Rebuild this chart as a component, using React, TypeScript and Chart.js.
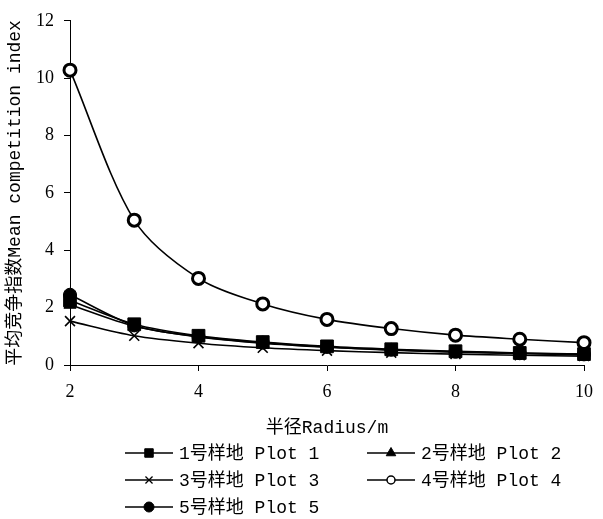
import React, { useEffect, useRef } from 'react';
import { Chart, registerables } from 'chart.js';

Chart.register(...registerables);

const radii = [2, 3, 4, 5, 6, 7, 8, 9, 10];
const plot1 = [2.25, 1.42, 1.02, 0.8, 0.65, 0.55, 0.48, 0.42, 0.38];
const plot2 = [2.1, 1.35, 0.98, 0.76, 0.62, 0.52, 0.45, 0.4, 0.36];
const plot3 = [1.53, 1.02, 0.76, 0.6, 0.5, 0.43, 0.38, 0.34, 0.31];
const plot4 = [10.28, 5.05, 3.02, 2.13, 1.59, 1.27, 1.04, 0.9, 0.78];
const plot5 = [2.45, 1.38, 0.99, 0.78, 0.63, 0.53, 0.46, 0.41, 0.37];
const seriesLabels = ['1号样地 Plot 1', '2号样地 Plot 2', '3号样地 Plot 3', '4号样地 Plot 4', '5号样地 Plot 5'];
const xTitle = '半径Radius/m';
const yTitle = '平均竞争指数Mean competition index';

const textFont = "'Liberation Mono', 'Noto Sans CJK SC', monospace";
const tickFont = "'Liberation Serif', serif";

type Marker = { style: string; radius: number; fill: string; border: number; legendRadius: number; legendBorder: number };
const markers: Marker[] = [
  { style: 'rect', radius: 9, fill: '#000', border: 1, legendRadius: 6, legendBorder: 1 },
  { style: 'triangle', radius: 7, fill: '#000', border: 1, legendRadius: 5.5, legendBorder: 1 },
  { style: 'crossRot', radius: 7, fill: '#000', border: 1.6, legendRadius: 5, legendBorder: 1.3 },
  { style: 'circle', radius: 6, fill: '#fff', border: 3, legendRadius: 4, legendBorder: 1.5 },
  { style: 'circle', radius: 6.5, fill: '#000', border: 1, legendRadius: 5, legendBorder: 1 },
];

function drawMarker(ctx: CanvasRenderingContext2D, m: Marker, x: number, y: number) {
  const r = m.legendRadius;
  ctx.save();
  ctx.fillStyle = m.fill;
  ctx.strokeStyle = '#000';
  ctx.lineWidth = m.legendBorder;
  ctx.beginPath();
  if (m.style === 'rect') {
    const s = Math.SQRT1_2 * r;
    ctx.rect(x - s, y - s, 2 * s, 2 * s);
    ctx.fill();
    ctx.stroke();
  } else if (m.style === 'triangle') {
    ctx.moveTo(x, y - r);
    ctx.lineTo(x + r * 0.866, y + r * 0.5);
    ctx.lineTo(x - r * 0.866, y + r * 0.5);
    ctx.closePath();
    ctx.fill();
    ctx.stroke();
  } else if (m.style === 'crossRot') {
    const s = Math.SQRT1_2 * r;
    ctx.moveTo(x - s, y - s);
    ctx.lineTo(x + s, y + s);
    ctx.moveTo(x - s, y + s);
    ctx.lineTo(x + s, y - s);
    ctx.stroke();
  } else {
    ctx.arc(x, y, r, 0, Math.PI * 2);
    ctx.fill();
    ctx.stroke();
  }
  ctx.restore();
}

const overlayPlugin = {
  id: 'overlay',
  afterDraw(chart: any) {
    const ctx: CanvasRenderingContext2D = chart.ctx;
    const area = chart.chartArea;
    ctx.save();
    ctx.fillStyle = '#000';
    ctx.font = `18px ${textFont}`;
    ctx.textAlign = 'center';
    ctx.textBaseline = 'middle';
    ctx.fillText(xTitle, (area.left + area.right) / 2, 428);
    ctx.save();
    ctx.translate(15, (area.top + area.bottom) / 2);
    ctx.rotate(-Math.PI / 2);
    ctx.fillText(yTitle, 0, 0);
    ctx.restore();

    const colX = [125, 367];
    const rowY = [453, 480, 507];
    const lineLen = 48;
    ctx.textAlign = 'left';
    chart.data.datasets.forEach((ds: any, i: number) => {
      const x0 = colX[i % 2];
      const y0 = rowY[Math.floor(i / 2)];
      ctx.strokeStyle = '#000';
      ctx.lineWidth = 1.6;
      ctx.beginPath();
      ctx.moveTo(x0, y0);
      ctx.lineTo(x0 + lineLen, y0);
      ctx.stroke();
      drawMarker(ctx, markers[i], x0 + lineLen / 2, y0);
      ctx.fillStyle = '#000';
      ctx.fillText(ds.label, x0 + lineLen + 6, y0 + 1);
    });
    ctx.restore();
  },
};

export default function App() {
  const ref = useRef<HTMLCanvasElement | null>(null);
  useEffect(() => {
    document.body.style.margin = '0';
    if (!ref.current) return;
    const series = [plot1, plot2, plot3, plot4, plot5];
    const chart = new Chart(ref.current, {
      type: 'line',
      data: {
        datasets: series.map((vals, i) => ({
          label: seriesLabels[i],
          data: radii.map((r, j) => ({ x: r, y: vals[j] })),
          borderColor: '#000',
          borderWidth: 1.6,
          backgroundColor: markers[i].fill,
          pointStyle: markers[i].style as any,
          pointRadius: markers[i].radius,
          pointBorderWidth: markers[i].border,
          pointBorderColor: '#000',
          pointBackgroundColor: markers[i].fill,
          tension: 0.3,
          fill: false,
          clip: false as any,
        })),
      },
      options: {
        animation: false,
        responsive: false,
        layout: { padding: { top: 13, right: 15, left: 0, bottom: 0 } },
        plugins: { legend: { display: false }, tooltip: { enabled: false } },
        scales: {
          x: {
            type: 'linear',
            min: 2,
            max: 10,
            ticks: { stepSize: 2, color: '#000', padding: 10, font: { family: tickFont, size: 18 } },
            grid: { drawOnChartArea: false, drawTicks: true, tickLength: 6, color: '#000', tickColor: '#000' },
            border: { color: '#000', width: 1 },
            afterFit: (s: any) => { s.height = 154; },
          },
          y: {
            type: 'linear',
            min: 0,
            max: 12,
            ticks: { stepSize: 2, color: '#000', padding: 10, font: { family: tickFont, size: 18 } },
            grid: { drawOnChartArea: false, drawTicks: true, tickLength: 6, color: '#000', tickColor: '#000' },
            border: { color: '#000', width: 1 },
            afterFit: (s: any) => { s.width = 70; },
          },
        },
      } as any,
      plugins: [overlayPlugin],
    });
    return () => chart.destroy();
  }, []);
  return (
    <div style={{ width: 603, height: 519 }}>
      <canvas ref={ref} width={603} height={519} style={{ display: 'block' }} />
    </div>
  );
}
